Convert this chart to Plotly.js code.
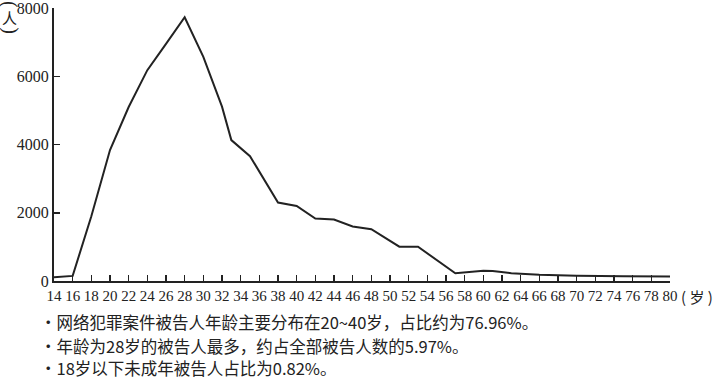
<!DOCTYPE html>
<html>
<head>
<meta charset="utf-8">
<script src="https://cdn.plot.ly/plotly-3.0.1.min.js"></script>
<style>html,body{margin:0;padding:0;background:#fff;}#chart{width:719px;height:379px;}</style>
</head>
<body>
<div id="chart"></div>
<script>
// Ages (years) and number of defendants
var ages   = [14, 16, 18, 20, 22, 24, 26, 28, 30, 32, 33, 35, 38, 40, 42, 44, 46, 48, 51, 53, 57, 60, 61, 63, 66, 70, 75, 80];
var counts = [110, 150, 1900, 3840, 5100, 6180, 6950, 7730, 6570, 5110, 4130, 3660, 2300, 2200, 1830, 1800, 1600, 1520, 1005, 1005, 225, 300, 290, 230, 185, 155, 140, 135];

var xTickVals = [14,16,18,20,22,24,26,28,30,32,34,36,38,40,42,44,46,48,50,52,54,56,58,60,62,64,66,68,70,72,74,76,78,80];
var yTickVals = [0, 2000, 4000, 6000, 8000];

var notes = [
  "·网络犯罪案件被告人年龄主要分布在20~40岁，占比约为76.96%。",
  "·年龄为28岁的被告人最多，约占全部被告人数的5.97%。",
  "·18岁以下未成年被告人占比为0.82%。"
];
var yUnitOpen = "(", yUnitChar = "人", yUnitClose = ")";
var xUnit = "( 岁 )";

var serif = "Liberation Serif";
var cjk = "Noto Sans CJK SC";

var trace = {
  x: ages, y: counts, type: "scatter", mode: "lines",
  line: {color: "#222", width: 2}, hoverinfo: "skip"
};

var annotations = [];
var noteY = [-0.152, -0.237, -0.3187];
notes.forEach(function(t, i){
  annotations.push({xref:"paper", yref:"paper", x:-0.025, y:noteY[i], xanchor:"left", yanchor:"middle",
    borderpad:0, text:t, showarrow:false, font:{family:cjk, size:16.5, color:"#222"}});
});
annotations.push({xref:"paper", yref:"paper", x:-0.072, y:1.012, xanchor:"center", yanchor:"middle", textangle:90,
  text:yUnitOpen, showarrow:false, font:{family:serif, size:20, color:"#222"}});
annotations.push({xref:"paper", yref:"paper", x:-0.072, y:0.965, xanchor:"center", yanchor:"middle",
  text:yUnitChar, showarrow:false, font:{family:cjk, size:15, color:"#222"}});
annotations.push({xref:"paper", yref:"paper", x:-0.072, y:0.916, xanchor:"center", yanchor:"middle", textangle:90,
  text:yUnitClose, showarrow:false, font:{family:serif, size:20, color:"#222"}});
annotations.push({xref:"paper", yref:"paper", x:1.0146, y:-0.055, xanchor:"left", yanchor:"middle",
  text:xUnit, showarrow:false, font:{family:cjk, size:15, color:"#222"}});

var layout = {
  width: 719, height: 379,
  margin: {l: 54, r: 49, t: 8, b: 98},
  paper_bgcolor: "#fff", plot_bgcolor: "#fff",
  showlegend: false,
  xaxis: {
    range: [14, 80], tickvals: xTickVals, ticktext: xTickVals.map(String),
    ticks: "inside", ticklen: 6, tickwidth: 1.5, tickcolor: "#222",
    showline: true, linecolor: "#222", linewidth: 2,
    showgrid: false, zeroline: false, tickangle: 0, ticklabeloverflow: "allow",
    tickfont: {family: serif, size: 15, color: "#222"}
  },
  yaxis: {
    range: [0, 8002], tickvals: yTickVals, ticktext: yTickVals.map(String),
    ticks: "inside", ticklen: 6, tickwidth: 1.5, tickcolor: "#222",
    showline: true, linecolor: "#222", linewidth: 2,
    showgrid: false, zeroline: false, ticklabeloverflow: "allow",
    tickfont: {family: serif, size: 16, color: "#222"}
  },
  annotations: annotations
};

Plotly.newPlot("chart", [trace], layout, {displayModeBar: false, staticPlot: true});
</script>
</body>
</html>
